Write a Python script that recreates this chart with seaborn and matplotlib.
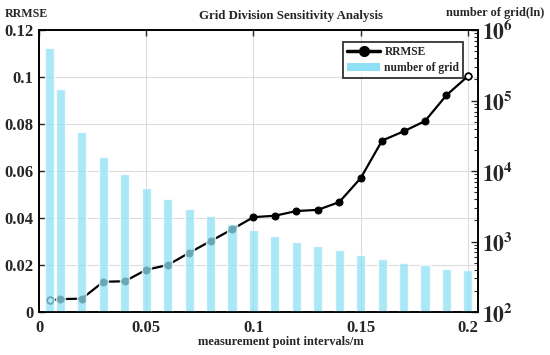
import numpy as np
import pandas as pd
import seaborn as sns
import matplotlib.pyplot as plt
from matplotlib.lines import Line2D
from matplotlib.patches import Patch
from matplotlib.ticker import FuncFormatter, LogLocator

# measurement point interval (m)
intervals = [0.005, 0.01, 0.02, 0.03, 0.04, 0.05, 0.06, 0.07, 0.08, 0.09, 0.10,
             0.11, 0.12, 0.13, 0.14, 0.15, 0.16, 0.17, 0.18, 0.19, 0.20]
rrmse = [0.0050, 0.0055, 0.0057, 0.0129, 0.0131, 0.0180, 0.0200, 0.0252, 0.0302,
         0.0352, 0.0404, 0.0410, 0.0430, 0.0435, 0.0468, 0.0570, 0.0730, 0.0769,
         0.0813, 0.0923, 0.1004]
n_grid = [562000, 144000, 35700, 15800, 9100, 5800, 3980, 2920, 2300, 1770, 1470,
          1210, 994, 863, 759, 650, 565, 495, 464, 407, 390]

df = pd.DataFrame({"interval": intervals, "rrmse": rrmse, "grid": n_grid})

sns.set_style("white")
plt.rcParams["font.family"] = ["Liberation Serif", "DejaVu Serif"]
plt.rcParams["font.weight"] = "bold"
plt.rcParams["mathtext.fontset"] = "stix"

bar_col = "#8ee0f5"

fig = plt.figure(figsize=(5.5, 3.55), dpi=100)
ax1 = fig.add_axes([0.071, 0.121, 0.798, 0.794])
ax2 = ax1.twinx()

# RRMSE line (left axis)
sns.lineplot(data=df, x="interval", y="rrmse", ax=ax1, color="black", lw=1.6,
             marker="o", markersize=5, markeredgecolor="black", zorder=3)
ends = df.iloc[[0, -1]]
ax1.scatter(ends["interval"], ends["rrmse"], s=22, facecolor="white",
            edgecolor="black", lw=1.2, zorder=4)

# grid counts (right axis, log)
ax2.set_yscale("log")
sns.barplot(data=df, x="interval", y="grid", ax=ax2, native_scale=True,
            color=bar_col, alpha=0.75, width=0.85, saturation=1, zorder=2)

ax1.set_xlim(0, 0.2047)
ax1.set_ylim(0, 0.12)
ax2.set_ylim(100, 1e6)

ax1.set_xticks([0, 0.05, 0.1, 0.15, 0.2])
ax1.set_yticks(np.arange(0, 0.121, 0.02))
fmt = FuncFormatter(lambda v, p: "%g" % round(v, 3))
ax1.xaxis.set_major_formatter(fmt)
ax1.yaxis.set_major_formatter(fmt)
ax2.yaxis.set_major_locator(LogLocator(base=10, numticks=10))
ax2.yaxis.set_minor_locator(LogLocator(base=10, subs=np.arange(2, 10), numticks=20))
ax2.yaxis.set_major_formatter(FuncFormatter(lambda v, p: r"$\mathbf{10^{%d}}$" % round(np.log10(v))))

ax1.grid(True, color="#dcdcdc", lw=0.8)
ax1.set_axisbelow(True)
for a in (ax1, ax2):
    a.set_xlabel("")
    a.set_ylabel("")
    for s in a.spines.values():
        s.set_color("black")
        s.set_linewidth(1.2)
ax1.tick_params(axis="both", direction="in", length=4, width=1, labelsize=12,
                top=True, right=False, pad=4)
ax1.tick_params(axis="x", pad=6)
ax2.tick_params(axis="y", which="major", direction="in", length=5, width=1,
                labelsize=15.5, pad=3)
ax2.tick_params(axis="y", which="minor", direction="in", length=3, width=0.8)
for lab in ax1.get_xticklabels() + ax1.get_yticklabels():
    lab.set_fontweight("bold")

handles = [Line2D([], [], color="black", lw=2.5, marker="o", markersize=7),
           Patch(facecolor=bar_col, edgecolor="none")]
leg = ax2.legend(handles, ["RRMSE", "number of grid"], loc="upper right",
                 bbox_to_anchor=(0.98, 0.978), frameon=True, fancybox=False,
                 handlelength=2.8, handletextpad=0.4, borderpad=0.35,
                 labelspacing=0.3, prop={"size": 8.3, "weight": "bold"})
leg.get_frame().set_edgecolor("black")
leg.get_frame().set_linewidth(1.3)

fig.text(0.529, 0.955, "Grid Division Sensitivity Analysis", ha="center",
         va="center", fontsize=9.3, fontweight="bold")
fig.text(0.048, 0.96, "RRMSE", ha="center", va="center", fontsize=8.6,
         fontweight="bold")
fig.text(0.900, 0.963, "number of grid(ln)", ha="center", va="center",
         fontsize=8.8, fontweight="bold")
fig.text(0.511, 0.036, "measurement point intervals/m", ha="center",
         va="center", fontsize=8.9, fontweight="bold")

fig.savefig("out.png", dpi=100)
